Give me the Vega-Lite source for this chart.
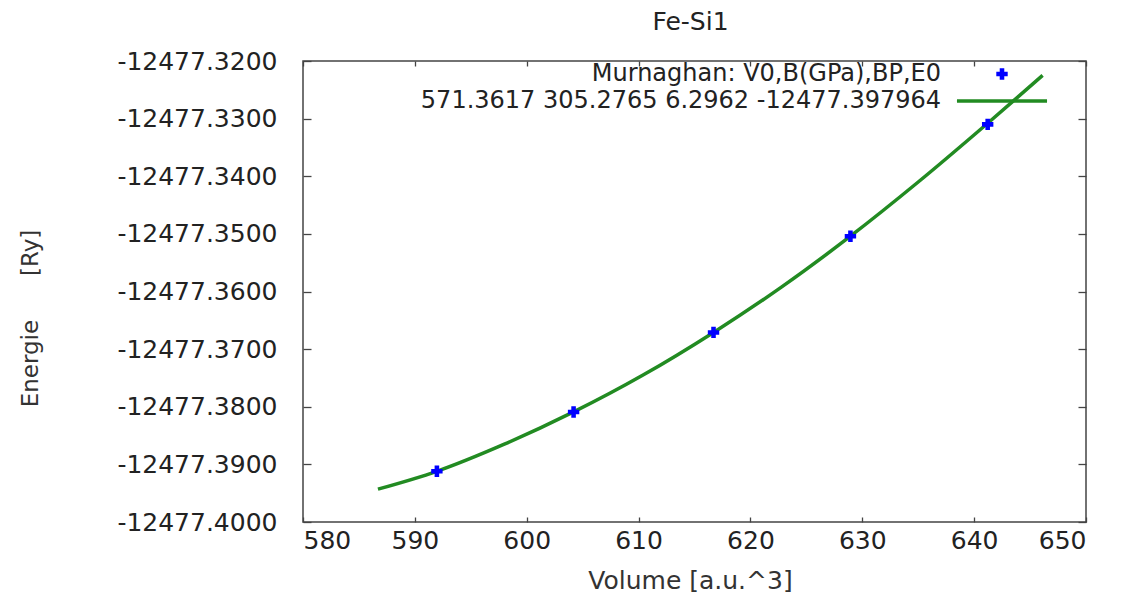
{
  "$schema": "https://vega.github.io/schema/vega-lite/v6.json",
  "width": 783,
  "height": 461,
  "autosize": "none",
  "padding": {"left": 303, "top": 61, "right": 45, "bottom": 73},
  "background": "white",
  "title": {
    "text": "Fe-Si1",
    "font": "DejaVu Sans",
    "fontSize": 25,
    "fontWeight": "normal",
    "color": "#222222",
    "anchor": "middle",
    "offset": 14,
    "dx": -4
  },
  "config": {
    "view": {"stroke": "#444444", "strokeWidth": 1.5},
    "font": "DejaVu Sans",
    "axis": {
      "labelFont": "DejaVu Sans",
      "labelFontSize": 25,
      "labelColor": "#222222",
      "titleFont": "DejaVu Sans",
      "titleFontSize": 22,
      "titleFontWeight": "normal",
      "titleColor": "#333333",
      "grid": false,
      "domain": false,
      "tickColor": "#444444",
      "tickWidth": 1.3
    }
  },
  "datasets": {
    "fit": [
      {"V": 586.70, "E": -12477.3943},
      {"V": 591.97, "E": -12477.3912},
      {"V": 598.00, "E": -12477.3865},
      {"V": 604.19, "E": -12477.3809},
      {"V": 610.40, "E": -12477.3745},
      {"V": 616.70, "E": -12477.3671},
      {"V": 622.80, "E": -12477.3592},
      {"V": 628.94, "E": -12477.3504},
      {"V": 635.00, "E": -12477.3410},
      {"V": 641.21, "E": -12477.3308},
      {"V": 646.12, "E": -12477.3225}
    ],
    "pts": [
      {"V": 591.97, "E": -12477.3912, "series": "Murnaghan: V0,B(GPa),BP,E0"},
      {"V": 604.19, "E": -12477.3809, "series": "Murnaghan: V0,B(GPa),BP,E0"},
      {"V": 616.70, "E": -12477.3671, "series": "Murnaghan: V0,B(GPa),BP,E0"},
      {"V": 628.94, "E": -12477.3504, "series": "Murnaghan: V0,B(GPa),BP,E0"},
      {"V": 641.21, "E": -12477.3310, "series": "Murnaghan: V0,B(GPa),BP,E0"}
    ]
  },
  "layer": [
    {
      "data": {"name": "fit"},
      "mark": {"type": "line", "color": "#228b22", "strokeWidth": 3.5, "interpolate": "monotone"},
      "encoding": {
        "x": {
          "field": "V",
          "type": "quantitative",
          "scale": {"domain": [580, 650], "nice": false, "zero": false},
          "axis": {
            "orient": "bottom",
            "values": [580, 590, 600, 610, 620, 630, 640, 650],
            "tickSize": -5,
            "labelPadding": 11,
            "title": "Volume [a.u.^3]",
            "titleFontSize": 25,
            "titleX": 387,
            "titleY": 58,
            "titleBaseline": "middle"
          }
        },
        "y": {
          "field": "E",
          "type": "quantitative",
          "scale": {"domain": [-12477.40, -12477.32], "nice": false, "zero": false},
          "axis": {
            "orient": "left",
            "values": [-12477.40, -12477.39, -12477.38, -12477.37, -12477.36, -12477.35, -12477.34, -12477.33, -12477.32],
            "labelExpr": "replace(format(datum.value, '.4f'), '\u2212', '-')",
            "tickSize": -8,
            "labelPadding": 34,
            "title": "Energie\u00a0\u00a0\u00a0\u00a0\u00a0\u00a0[Ry]",
            "titleFontSize": 23,
            "titleX": -273,
            "titleY": 257,
            "titleAngle": -90,
            "titleBaseline": "middle",
            "titleAlign": "center"
          }
        }
      }
    },
    {
      "data": {"name": "pts"},
      "mark": {"type": "point", "filled": true, "size": 130, "opacity": 1},
      "encoding": {
        "x": {
          "field": "V",
          "type": "quantitative",
          "axis": {
            "orient": "top",
            "values": [580, 590, 600, 610, 620, 630, 640, 650],
            "tickSize": -5,
            "labels": false,
            "title": null
          }
        },
        "y": {
          "field": "E",
          "type": "quantitative",
          "axis": {
            "orient": "right",
            "values": [-12477.40, -12477.39, -12477.38, -12477.37, -12477.36, -12477.35, -12477.34, -12477.33, -12477.32],
            "tickSize": -8,
            "labels": false,
            "title": null
          }
        },
        "color": {
          "field": "series",
          "type": "nominal",
          "scale": {
            "domain": ["Murnaghan: V0,B(GPa),BP,E0", "571.3617 305.2765 6.2962 -12477.397964"],
            "range": ["#0000ff", "#228b22"]
          },
          "legend": {
            "title": null,
            "orient": "none",
            "legendX": 617,
            "legendY": 1,
            "padding": 0,
            "labelFont": "DejaVu Sans",
            "labelFontSize": 24,
            "labelColor": "#222222",
            "labelLimit": 900,
            "labelAlign": "right",
            "labelOffset": -73,
            "symbolOffset": 70,
            "symbolSize": 130,
            "rowPadding": 3
          }
        },
        "shape": {
          "field": "series",
          "type": "nominal",
          "scale": {
            "domain": ["Murnaghan: V0,B(GPa),BP,E0", "571.3617 305.2765 6.2962 -12477.397964"],
            "range": ["cross", "M-7.9,-0.31L7.9,-0.31L7.9,0.31L-7.9,0.31Z"]
          },
          "legend": {
            "title": null,
            "orient": "none",
            "legendX": 617,
            "legendY": 1,
            "padding": 0,
            "labelFont": "DejaVu Sans",
            "labelFontSize": 24,
            "labelColor": "#222222",
            "labelLimit": 900,
            "labelAlign": "right",
            "labelOffset": -73,
            "symbolOffset": 70,
            "symbolSize": 130,
            "rowPadding": 3
          }
        }
      }
    }
  ],
  "resolve": {"axis": {"x": "independent", "y": "independent"}}
}
